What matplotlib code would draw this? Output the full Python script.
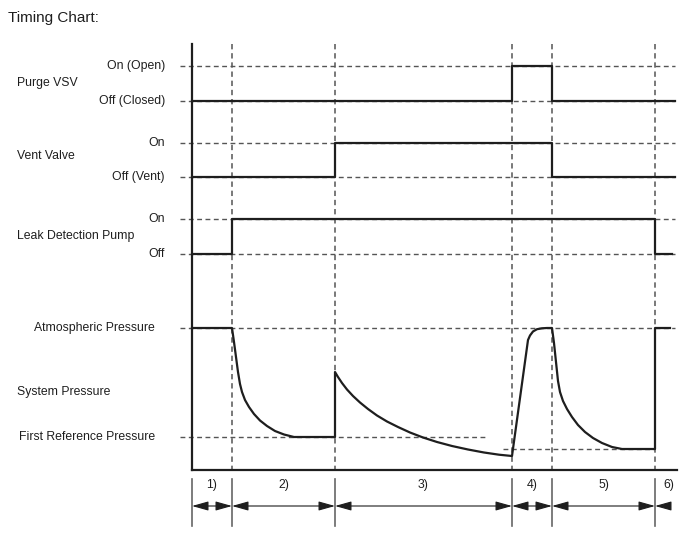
import matplotlib.pyplot as plt

plt.rcParams['font.family'] = ['Liberation Sans', 'DejaVu Sans']

# time axis: 0 = left edge of the chart, one unit ~ one pixel
phase_edges = [0, 40, 143, 320, 360, 463]
phase_labels = ['1)', '2)', '3)', '4)', '5)', '6)']
phase_end = 475
t_end = 483

# signal levels (y grows downward)
purge_levels = [66, 101]        # on, off
purge_names = ['On (Open)', 'Off (Closed)']
vent_levels = [143, 177]
vent_names = ['On', 'Off (Vent)']
pump_levels = [219, 254]
pump_names = ['On', 'Off']
atm_level = 328
ref_level = 437
ref2_level = 449

# step signals: switching times and states (1 = on)
purge_t = [0, 320, 360, t_end]
purge_s = [0, 1, 0, 0]
vent_t = [0, 143, 360, t_end]
vent_s = [0, 1, 0, 0]
pump_t = [0, 40, 463, 480]
pump_s = [0, 1, 0, 0]

# system pressure trace
press_t = [0, 40, 42, 44, 46, 48, 50, 53, 57, 62, 68, 75, 83, 92, 102, 143,
           143, 146, 150, 155, 161, 168, 176, 185, 195, 206, 218, 231, 245, 260, 276, 292, 307, 320,
           336, 338, 341, 345, 350, 355, 360,
           362, 364, 366, 368, 371, 375, 380, 386, 393, 401, 410, 420, 430, 463,
           463, 478]
press_y = [328, 328, 342, 357, 372, 384, 392, 400, 407, 414, 420.5, 426, 431, 434.5, 437, 437,
           372, 377, 383, 389.5, 396, 402.5, 409, 415.5, 421.5, 427, 432.5, 437.5, 442, 446, 449.5, 452.5, 454.7, 456,
           340, 335.5, 331.5, 329.2, 328.3, 328, 328,
           343, 362, 381, 392, 401, 409, 417, 425, 432, 438, 443, 447, 449, 449,
           328, 328]

rows = ['Purge VSV', 'Vent Valve', 'Leak Detection Pump', 'System Pressure']
row_y = [83, 156, 236, 392]

dark = '#1e1e1e'
grey = '#555555'
dash = (0, (3.5, 2.5))

fig = plt.figure(figsize=(6.88, 5.6), dpi=100)
ax = fig.add_axes([0, 0, 1, 1])
ax.set_xlim(-192, 496)
ax.set_ylim(560, 0)
ax.axis('off')

# horizontal reference levels
for y in purge_levels + vent_levels + pump_levels + [atm_level]:
    ax.plot([-12, t_end], [y, y], color=grey, lw=1.0, ls=dash)
ax.plot([-12, 295], [ref_level, ref_level], color=grey, lw=1.0, ls=dash)
ax.plot([311, 463], [ref2_level, ref2_level], color=grey, lw=1.0, ls=dash)

# phase boundaries
for t in phase_edges[1:]:
    ax.plot([t, t], [44, 470], color=grey, lw=1.1, ls=dash)
for t in phase_edges:
    ax.plot([t, t], [479, 526], color='#666666', lw=1.2)

# axes frame
ax.plot([0, 0], [44, 470], color=dark, lw=1.6)
ax.plot([0, 485], [470, 470], color=dark, lw=1.6)

# step signals
for ts, ss, lv in [(purge_t, purge_s, purge_levels), (vent_t, vent_s, vent_levels),
                   (pump_t, pump_s, pump_levels)]:
    ys = [lv[1] + s * (lv[0] - lv[1]) for s in ss]
    ax.plot(ts, ys, drawstyle='steps-post', color=dark, lw=1.6)

ax.plot(press_t, press_y, color=dark, lw=1.6, solid_joinstyle='round')

# labels
ax.text(-184, 18, 'Timing Chart:', fontsize=11, color=dark, va='center', ha='left')
for name, y in zip(rows, row_y):
    ax.text(-175, y, name, fontsize=8.8, color=dark, va='center', ha='left')
for names, levels in [(purge_names, purge_levels), (vent_names, vent_levels),
                      (pump_names, pump_levels)]:
    for name, y in zip(names, levels):
        ax.text(-27, y, name, fontsize=8.8, color=dark, va='center', ha='right')
ax.text(-37, atm_level, 'Atmospheric Pressure', fontsize=8.8, color=dark, va='center', ha='right')
ax.text(-37, ref_level, 'First Reference Pressure', fontsize=8.8, color=dark, va='center', ha='right')

# phase arrows
bounds = phase_edges + [phase_end]
for i, lab in enumerate(phase_labels):
    t0, t1 = bounds[i], bounds[i + 1]
    mid = (t0 + t1) / 2 if i < 5 else 477
    ax.text(mid, 485, lab, fontsize=8.8, color=dark, ha='center', va='center')
    style = '<|-|>,head_length=1.0,head_width=0.28' if i < 5 else '<|-,head_length=1.0,head_width=0.28'
    ax.annotate('', xy=(t1, 506), xytext=(t0, 506),
                arrowprops=dict(arrowstyle=style, color=dark, lw=0.8,
                                shrinkA=0, shrinkB=0, mutation_scale=10))

fig.savefig('out.png', dpi=100)
